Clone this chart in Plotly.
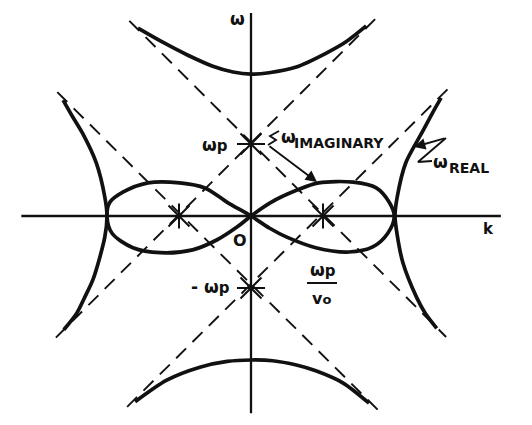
import plotly.graph_objects as go

# ---- data (k in units of wp/v0, omega in units of wp) ----
axis_k = [-3.19, 3.47]
axis_w = [2.82, -2.74]

# dashed beam lines  w = +-k +- 1 (end points)
dash_lines = {
    "L1": ([-2.71, 1.77], [-1.69, 2.78]),
    "L2": ([-1.69, 2.71], [2.71, -1.68]),
    "L3": ([-1.72, 2.75], [-2.65, 1.78]),
    "L4": ([-2.69, 1.83], [1.72, -2.76]),
}

# real branches
top_k = [-1.57, -1.20, -0.89, -0.53, -0.25, 0.00, 0.25, 0.63, 1.04, 1.32, 1.60]
top_w = [2.61, 2.40, 2.24, 2.08, 2.00, 1.97, 1.99, 2.07, 2.26, 2.42, 2.64]

bot_k = [-1.61, -1.17, -0.71, -0.33, 0.00, 0.30, 0.63, 0.90, 1.28, 1.64]
bot_w = [-2.58, -2.28, -2.10, -2.02, -2.00, -2.01, -2.07, -2.15, -2.32, -2.60]

right_k = [2.64, 2.52, 2.37, 2.15, 2.03, 2.00, 2.03, 2.11, 2.30, 2.42, 2.58]
right_w = [1.64, 1.43, 1.15, 0.74, 0.26, 0.00, -0.26, -0.65, -1.13, -1.35, -1.56]

left_k = [-2.61, -2.49, -2.34, -2.15, -2.03, -2.00, -2.03, -2.19, -2.31, -2.42, -2.60]
left_w = [1.61, 1.40, 1.15, 0.74, 0.26, 0.00, -0.29, -0.87, -1.13, -1.35, -1.58]

# imaginary branch (figure eight through the origin)
loop_k = [0.00, 0.26, 0.64, 0.94, 1.42, 1.74, 1.92, 1.99, 1.90, 1.69, 1.36, 0.90, 0.49, 0.26,
          0.00, -0.33, -0.64, -0.99, -1.43, -1.78, -1.96, -2.00, -1.93, -1.64, -1.26, -0.81,
          -0.47, -0.19, 0.00]
loop_w = [0.00, 0.18, 0.36, 0.46, 0.47, 0.39, 0.19, 0.00, -0.24, -0.43, -0.50, -0.44, -0.29, -0.17,
          0.00, 0.19, 0.39, 0.46, 0.46, 0.33, 0.19, 0.00, -0.24, -0.44, -0.51, -0.47,
          -0.33, -0.15, 0.00]

# crossing marks
xmark_k = [0.0, 0.0, -1.0, 1.0]
xmark_w = [1.0, -1.0, 0.0, 0.0]

# label pointers (zig-zag leaders)
imag_lead_k = [0.389, 0.264, 0.347, 0.236]
imag_lead_w = [1.181, 1.111, 1.056, 0.986]
imag_tip = (0.917, 0.472)
real_lead_k = [2.514, 2.319, 2.708]
real_lead_w = [0.764, 0.750, 1.083]
real_tip = (2.264, 0.958)

# ---- figure ----
# screen-pixel origin of the diagram and pixels per unit
X0, Y0, S = 251.0, 216.0, 72.0
PAGE_OFF = 8          # default body margin of the html page
W, H = 532 - PAGE_OFF, 425 - 2 * PAGE_OFF


def P(x, y):
    return (x - X0) / S, (Y0 - y) / S


fig = go.Figure()
BLACK = "#111111"

# axes
fig.add_trace(go.Scatter(x=axis_k, y=[0, 0], mode="lines", line=dict(color=BLACK, width=2.3)))
fig.add_trace(go.Scatter(x=[0, 0], y=axis_w, mode="lines", line=dict(color=BLACK, width=2.3)))

for name, (ks, ws) in dash_lines.items():
    fig.add_trace(go.Scatter(x=ks, y=ws, mode="lines",
                             line=dict(color=BLACK, width=1.9, dash="14px,9px")))

for ks, ws in [(top_k, top_w), (bot_k, bot_w), (right_k, right_w), (left_k, left_w)]:
    fig.add_trace(go.Scatter(x=ks, y=ws, mode="lines",
                             line=dict(color=BLACK, width=3.7, shape="spline", smoothing=0.8)))

fig.add_trace(go.Scatter(x=loop_k, y=loop_w, mode="lines",
                         line=dict(color=BLACK, width=3.7, shape="spline", smoothing=0.9)))

# X marks at crossings
fig.add_trace(go.Scatter(x=xmark_k, y=xmark_w, mode="markers",
                         marker=dict(symbol="x-thin-open", size=21, color=BLACK,
                                     line=dict(color=BLACK, width=2))))
fig.add_trace(go.Scatter(x=xmark_k[:2], y=xmark_w[:2], mode="markers",
                         marker=dict(symbol="line-ew-open", size=20, color=BLACK,
                                     line=dict(color=BLACK, width=2))))
fig.add_trace(go.Scatter(x=xmark_k[2:], y=xmark_w[2:], mode="markers",
                         marker=dict(symbol="line-ns-open", size=18, color=BLACK,
                                     line=dict(color=BLACK, width=2))))

# leaders
fig.add_trace(go.Scatter(x=imag_lead_k, y=imag_lead_w, mode="lines",
                         line=dict(color=BLACK, width=1.9)))
fig.add_trace(go.Scatter(x=real_lead_k, y=real_lead_w, mode="lines",
                         line=dict(color=BLACK, width=1.9)))
fig.add_annotation(x=imag_tip[0], y=imag_tip[1], ax=imag_lead_k[-1], ay=imag_lead_w[-1],
                   xref="x", yref="y", axref="x", ayref="y", text="", showarrow=True,
                   arrowhead=2, arrowsize=1.2, arrowwidth=1.9, arrowcolor=BLACK, standoff=0)
fig.add_annotation(x=real_tip[0], y=real_tip[1], ax=real_lead_k[-1], ay=real_lead_w[-1],
                   xref="x", yref="y", axref="x", ayref="y", text="", showarrow=True,
                   arrowhead=2, arrowsize=1.2, arrowwidth=1.9, arrowcolor=BLACK, standoff=0)

FONT = "DejaVu Sans"


def label(px, py, text, size=16, anchor="center"):
    x, y = P(px, py)
    fig.add_annotation(x=x, y=y, xref="x", yref="y", text=text,
                       showarrow=False,
                       font=dict(family=FONT, size=size, color=BLACK, weight=600),
                       xanchor=anchor, yanchor="middle")


PSUB = "ω<span style='font-size:15px'>p</span>"
label(237, 19, "ω", 17)
label(488, 229, "k", 15)
label(215, 145, PSUB, 17)
label(210, 287, "- " + PSUB, 17)
label(240, 240, "O", 16)
label(323, 270, PSUB, 17)
label(321, 298, "v<span style='font-size:13px'>o</span>", 16)
label(288, 137, "ω", 17)
label(292, 143, "IMAGINARY", 14, "left")
label(440, 162, "ω", 17)
label(447, 168, "REAL", 14, "left")

# fraction bar
fx0, fy = P(307, 283)
fx1, _ = P(337, 283)
fig.add_shape(type="line", x0=fx0, x1=fx1, y0=fy, y1=fy, xref="x", yref="y",
              line=dict(color=BLACK, width=2))

# visible screen area covered by the figure (page offset by body margin)
xr = [P(PAGE_OFF, 0)[0], P(PAGE_OFF + W, 0)[0]]
yr = [P(0, PAGE_OFF + H)[1], P(0, PAGE_OFF)[1]]
fig.update_layout(
    width=W, height=H, margin=dict(l=0, r=0, t=0, b=0),
    paper_bgcolor="white", plot_bgcolor="white", showlegend=False,
    xaxis=dict(range=xr, visible=False, fixedrange=True),
    yaxis=dict(range=yr, visible=False, fixedrange=True),
)
fig.write_html("out.html")
